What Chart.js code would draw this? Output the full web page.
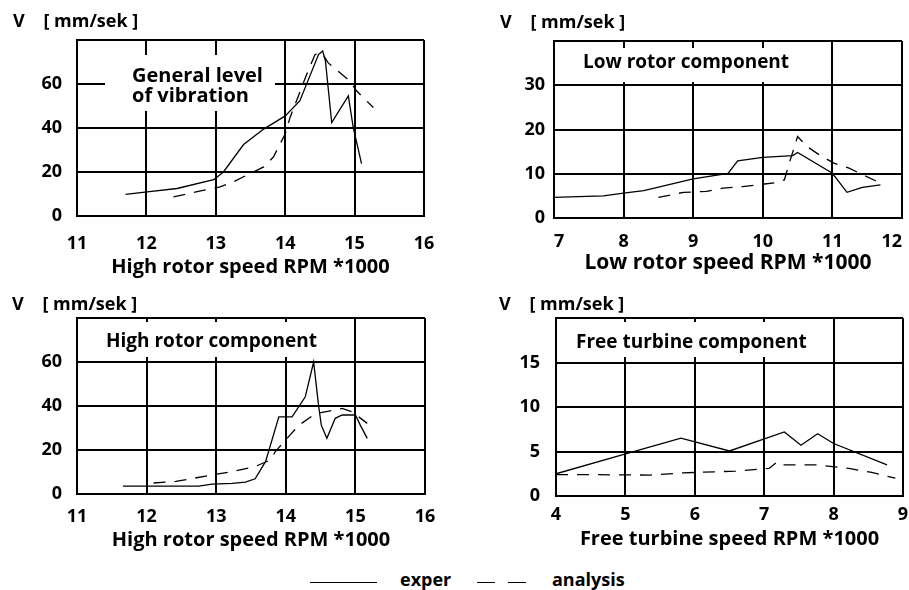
<!DOCTYPE html>
<html><head><meta charset="utf-8">
<script src="https://cdn.jsdelivr.net/npm/chart.js@4.4.0/dist/chart.umd.min.js"></script>
<style>
html,body{margin:0;padding:0;background:#fff;width:909px;height:590px;overflow:hidden;}
.p{position:absolute;}
.lg{position:absolute;font-family:"Open Sans";font-weight:bold;font-size:18px;line-height:18px;color:#000;white-space:nowrap;}
.ln{position:absolute;height:0;border-top:1.5px solid #000;}
</style></head><body>
<div class="p" style="left:0;top:0"><canvas id="c1" width="450" height="285"></canvas></div>
<div class="p" style="left:450px;top:0"><canvas id="c2" width="459" height="285"></canvas></div>
<div class="p" style="left:0;top:280px"><canvas id="c3" width="450" height="285"></canvas></div>
<div class="p" style="left:450px;top:280px"><canvas id="c4" width="459" height="285"></canvas></div>

<div class="ln" style="left:310px;top:582px;width:67px"></div>
<div class="lg" style="left:400px;top:570px">exper</div>
<div class="ln" style="left:477px;top:582px;width:18px"></div>
<div class="ln" style="left:508px;top:582px;width:18px"></div>
<div class="lg" style="left:552px;top:570px">analysis</div>

<script>
// ---- data ----
const yUnitLabel = 'V    [ mm/sek ]';

// Panel 1: General level of vibration
const genExpRpm = [11.70, 12.01, 12.44, 12.97, 13.11, 13.40, 13.69, 14.00, 14.21, 14.48, 14.54, 14.58, 14.67, 14.91, 14.98, 15.10];
const genExpV   = [9.8, 11, 12.5, 16.5, 20, 32.5, 39.5, 45.5, 52.3, 73.4, 75, 70.4, 42.5, 54.6, 40.3, 23.8];
const genAnaRpm = [12.39, 12.78, 13.06, 13.25, 13.69, 13.83, 14.00, 14.07, 14.31, 14.43, 14.53, 14.62, 14.93, 15.03, 15.27];
const genAnaV   = [8.7, 11.4, 13.2, 15.5, 22.3, 26.8, 37.3, 44.8, 64.4, 73.4, 74, 69.6, 61.4, 56.8, 49.3];

// Panel 2: Low rotor component
const lowExpRpm = [7.0, 7.71, 8.0, 8.29, 9.0, 9.5, 9.64, 10.0, 10.43, 10.5, 11.0, 11.21, 11.43, 11.69];
const lowExpV   = [4.65, 5.0, 5.6, 6.2, 8.85, 10.1, 12.9, 13.7, 14.1, 14.8, 10.1, 5.8, 6.9, 7.5];
const lowAnaRpm = [8.5, 8.86, 9.19, 9.43, 9.71, 10.19, 10.31, 10.38, 10.5, 10.64, 10.81, 11.02, 11.24, 11.64];
const lowAnaV   = [4.65, 5.8, 6.0, 6.75, 7.1, 8.0, 8.6, 12.4, 18.4, 16.1, 14.3, 12.4, 11.25, 8.25];

// Panel 3: High rotor component
const highExpRpm = [11.66, 12.75, 12.94, 13.23, 13.42, 13.56, 13.71, 13.90, 14.09, 14.28, 14.40, 14.47, 14.51, 14.59, 14.71, 14.81, 15.00, 15.07, 15.17];
const highExpV   = [3.6, 3.6, 4.5, 4.8, 5.4, 6.9, 14.8, 35.1, 35.1, 44.2, 60, 40.4, 31.3, 25.3, 34.4, 35.9, 35.9, 31.3, 25.3];
const highAnaRpm = [12.1, 12.42, 12.63, 13.01, 13.23, 13.56, 13.78, 13.85, 14.04, 14.19, 14.43, 14.62, 14.81, 14.95, 15.17];
const highAnaV   = [5.0, 5.7, 6.9, 9.0, 10.2, 12.5, 15.5, 19.3, 26.1, 31.3, 36.6, 37.7, 38.9, 37.4, 32.1];

// Panel 4: Free turbine component
const ftExpRpm = [4.0, 4.99, 5.80, 6.50, 7.29, 7.53, 7.77, 8.0, 8.77];
const ftExpV   = [2.5, 4.7, 6.5, 5.06, 7.2, 5.7, 7.0, 5.9, 3.5];
const ftAnaRpm = [4.0, 4.49, 5.35, 5.83, 6.59, 7.07, 7.19, 7.26, 7.74, 8.22, 8.55, 8.89];
const ftAnaV   = [2.4, 2.4, 2.35, 2.6, 2.8, 3.1, 3.85, 3.5, 3.5, 3.1, 2.65, 2.0];

// axis titles and annotation texts
const xTitleHigh = 'High rotor speed RPM *1000';
const xTitleLow  = 'Low rotor speed RPM *1000';
const xTitleFree = 'Free turbine speed RPM *1000';
const noteGen  = ['General level', 'of vibration'];
const noteLow  = ['Low rotor component'];
const noteHigh = ['High rotor component'];
const noteFree = ['Free turbine component'];

// ---- rendering ----
const FONT = '"Open Sans", "DejaVu Sans", sans-serif';
const pts = (xs, ys) => xs.map((x, i) => ({x: x, y: ys[i]}));

const boxNote = {
  id: 'boxNote',
  beforeDatasetsDraw(chart, args, o) {
    const a = chart.chartArea, c = chart.ctx;
    c.save();
    c.fillStyle = '#fff';
    c.fillRect(a.left + o.x0, a.top + o.y0, o.x1 - o.x0, o.y1 - o.y0);
    c.fillStyle = '#000';
    c.font = 'bold ' + o.size + 'px ' + FONT;
    c.textAlign = 'left';
    c.textBaseline = 'alphabetic';
    o.lines.forEach((t, i) => c.fillText(t, a.left + o.tx, a.top + o.ty + i * o.lh));
    c.restore();
  }
};

function panel(id, p) {
  return new Chart(document.getElementById(id), {
    type: 'line',
    data: {
      datasets: [
        {label: 'exper', data: pts(p.expX, p.expY), borderColor: '#000', borderWidth: 1.3,
         pointRadius: 0, fill: false, tension: 0},
        {label: 'analysis', data: pts(p.anaX, p.anaY), borderColor: '#000', borderWidth: 1.3,
         borderDash: [12, 9], pointRadius: 0, fill: false, tension: 0}
      ]
    },
    options: {
      responsive: false, animation: false, devicePixelRatio: 1,
      layout: {padding: {left: p.padL, right: p.padR, top: 0, bottom: 0}},
      plugins: {
        legend: {display: false},
        tooltip: {enabled: false},
        title: {display: true, text: yUnitLabel, align: 'start', color: '#000',
                font: {family: FONT, size: 18, weight: 'bold', lineHeight: 1.2},
                padding: {top: p.tT, bottom: p.tB}},
        boxNote: p.note
      },
      scales: {
        x: {
          type: 'linear', min: p.xMin, max: p.xMax,
          ticks: {stepSize: 1, color: '#000', padding: p.xtp, maxRotation: 0, autoSkip: false,
                  align: p.xAlign, font: {family: FONT, size: 18, weight: 'bold'}},
          grid: {color: '#000', lineWidth: 2, drawTicks: false},
          border: {color: '#000', width: 2},
          title: {display: true, text: p.xTitle, color: '#000',
                  font: {family: FONT, size: p.xts, weight: 'bold', lineHeight: 1.2},
                  padding: {top: 0, bottom: p.xtb}},
          afterFit: s => { s.height = p.xH; s.paddingLeft = 0; s.paddingRight = 0; }
        },
        y: {
          type: 'linear', min: 0, max: p.yMax,
          ticks: {stepSize: p.yStep, color: '#000', padding: p.ytp,
                  callback: v => (v === p.yMax ? '' : v),
                  font: {family: FONT, size: 18, weight: 'bold'}},
          grid: {color: '#000', lineWidth: 2, drawTicks: false},
          border: {color: '#000', width: 2},
          afterFit: s => { s.width = p.yW; s.paddingTop = 0; s.paddingBottom = 0; }
        }
      }
    },
    plugins: [boxNote]
  });
}

panel('c1', {expX: genExpRpm, expY: genExpV, anaX: genAnaRpm, anaY: genAnaV,
  xMin: 11, xMax: 16, yMax: 80, yStep: 20, xTitle: xTitleHigh, xts: 20, xAlign: 'center',
  padL: 13, padR: 26, yW: 64, tT: 11.2, tB: 7.2, xH: 69, xtp: 16.7, xtb: 6.0, ytp: 15,
  note: {x0: 28, x1: 198, y0: 15, y1: 71, tx: 55, ty: 42, lh: 20, size: 20, lines: noteGen}});

panel('c2', {expX: lowExpRpm, expY: lowExpV, anaX: lowAnaRpm, anaY: lowAnaV,
  xMin: 7, xMax: 12, yMax: 40, yStep: 10, xTitle: xTitleLow, xts: 21, xAlign: 'inner',
  padL: 50, padR: 7, yW: 54, tT: 12.2, tB: 7.2, xH: 67, xtp: 12.7, xtb: 9.5, ytp: 9,
  note: {x0: 2, x1: 276, y0: 7, y1: 41, tx: 29, ty: 27, lh: 20, size: 19, lines: noteLow}});

panel('c3', {expX: highExpRpm, expY: highExpV, anaX: highAnaRpm, anaY: highAnaV,
  xMin: 11, xMax: 16, yMax: 80, yStep: 20, xTitle: xTitleHigh, xts: 20, xAlign: 'center',
  padL: 12, padR: 25, yW: 65, tT: 14.2, tB: 2.2, xH: 71, xtp: 11.7, xtb: 13.0, ytp: 15,
  note: {x0: 2, x1: 268, y0: 4, y1: 39, tx: 29, ty: 29, lh: 20, size: 19, lines: noteHigh}});

panel('c4', {expX: ftExpRpm, expY: ftExpV, anaX: ftAnaRpm, anaY: ftAnaV,
  xMin: 4, xMax: 9, yMax: 20, yStep: 5, xTitle: xTitleFree, xts: 20, xAlign: 'center',
  padL: 49, padR: 6, yW: 57, tT: 14.2, tB: 2.2, xH: 69, xtp: 8.2, xtb: 13.5, ytp: 16,
  note: {x0: 2, x1: 269, y0: 4, y1: 39, tx: 20, ty: 30, lh: 20, size: 19, lines: noteFree}});
</script>
</body></html>
